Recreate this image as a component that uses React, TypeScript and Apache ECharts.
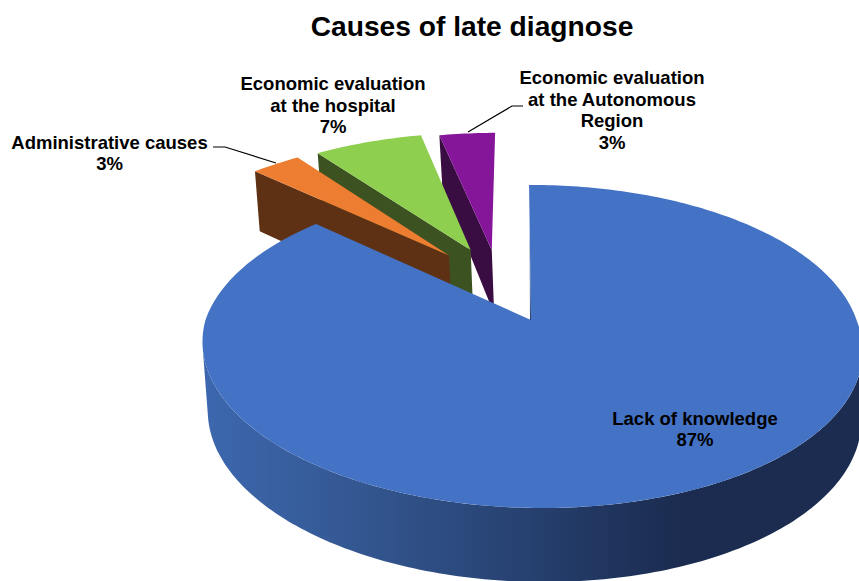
import React, { useEffect, useRef } from "react";
import * as echarts from "echarts";

const titleText = "Causes of late diagnose";
const categories = [
  "Lack of knowledge",
  "Administrative causes",
  "Economic evaluation\nat the hospital",
  "Economic evaluation\nat the Autonomous\nRegion",
];
const values = [87, 3, 6.6, 3.4];

const topColors = ["#4472C4", "#ED7D31", "#8FCF4F", "#85169A"];
const wallColors = ["#26406F", "#5F3114", "#3C5220", "#3A0D42"];
const explode: number[][] = [
  [0, 0],
  [-0.27, -0.44],
  [-0.2, -0.48],
  [-0.13, -0.48],
];
const labelPos: number[][] = [
  [695, 429],
  [109.5, 153],
  [333, 105],
  [612, 110],
];
const leaders: number[][][] = [
  [],
  [[213, 147], [225, 147], [276, 163]],
  [],
  [[523, 106], [512, 106], [468, 132]],
];

// Projected circle of the pie's top face
const CX = 531;
const R = 325.5;
const A = 104.7;
const B = 320;
const C = -0.164;
const SHEAR = 0.06;
const START = -0.4;
const depthStops = [[133, 50], [172, 60], [346, 69], [508, 74]];

function depthAt(y: number) {
  if (y <= depthStops[0][0]) return depthStops[0][1];
  for (let i = 1; i < depthStops.length; i++) {
    const [y1, d1] = depthStops[i];
    const [y0, d0] = depthStops[i - 1];
    if (y <= y1) return d0 + ((d1 - d0) * (y - y0)) / (y1 - y0);
  }
  return depthStops[depthStops.length - 1][1];
}
function project(u: number, v: number) {
  const w = 1 + C * v;
  const y = (A * v + B) / w;
  return [CX + (R * u) / w + SHEAR * Math.max(0, y - B), y];
}
function onRim(deg: number, ox: number, oy: number) {
  const r = (deg * Math.PI) / 180;
  return project(Math.sin(r) + ox, -Math.cos(r) + oy);
}
function lower(p: number[]) {
  return [CX + 2 + (p[0] - CX) * 0.99, p[1] + depthAt(p[1])];
}
function arc(a0: number, a1: number, ox: number, oy: number) {
  const n = Math.max(2, Math.ceil(Math.abs(a1 - a0)));
  const pts: number[][] = [];
  for (let i = 0; i <= n; i++) pts.push(onRim(a0 + ((a1 - a0) * i) / n, ox, oy));
  return pts;
}

const total = values.reduce((s, x) => s + x, 0);
const drawOrder = [3, 2, 1, 0];

function renderSlice(_params: any, api: any) {
  const idx = api.value(0) as number;
  const value = api.value(1) as number;
  let before = 0;
  for (let i = 0; i < idx; i++) before += values[i];
  const a0 = START + (before / total) * 360;
  const a1 = a0 + (value / total) * 360;
  const [ox, oy] = explode[idx];
  const apex = project(ox, oy);
  const rim = arc(a0, a1, ox, oy);
  const children: any[] = [];

  if (idx === 0) {
    // Thin visible edge along the slice's first cut
    const outer = rim[0];
    children.push({
      type: "polygon",
      shape: { points: [[outer[0] + 0.6, outer[1] + 40], apex, [apex[0] - 1, apex[1]]] },
      style: { fill: "#1F3864" },
    });
    const front = arc(99.4, 260.6, 0, 0);
    const back = front.map(lower).reverse();
    children.push({
      type: "polygon",
      shape: { points: front.concat(back) },
      style: {
        fill: new echarts.graphic.LinearGradient(
          202, 0, 860, 0,
          [
            { offset: 0, color: "#3D68AF" },
            { offset: 0.25, color: "#33568F" },
            { offset: 0.5, color: "#26406F" },
            { offset: 0.72, color: "#1B2C50" },
            { offset: 1, color: "#1B2C50" },
          ],
          true
        ),
      },
    });
  } else {
    const outer = rim[0];
    children.push({
      type: "polygon",
      shape: { points: [outer, apex, lower(apex), lower(outer)] },
      style: { fill: wallColors[idx] },
    });
  }

  children.push({
    type: "polygon",
    shape: { points: [apex].concat(rim) },
    style: { fill: topColors[idx] },
  });

  if (leaders[idx].length) {
    children.push({
      type: "polyline",
      shape: { points: leaders[idx] },
      style: { stroke: "#000", lineWidth: 1.2, fill: "none" },
    });
  }
  children.push({
    type: "text",
    x: labelPos[idx][0],
    y: labelPos[idx][1],
    style: {
      text: `${categories[idx]}\n${Math.round(value)}%`,
      fontFamily: "Liberation Sans",
      fontWeight: "bold",
      fontSize: 18.5,
      lineHeight: 21.6,
      fill: "#000",
      align: "center",
      verticalAlign: "middle",
    },
  });
  return { type: "group", children };
}

export default function App() {
  const ref = useRef<HTMLDivElement>(null);
  useEffect(() => {
    document.body.style.margin = "0";
    const chart = echarts.init(ref.current!, null, { renderer: "svg" });
    chart.setOption({
      animation: false,
      backgroundColor: "#fff",
      title: {
        text: titleText,
        left: 467,
        top: 7,
        textAlign: "center",
        textStyle: {
          fontFamily: "Liberation Sans",
          fontWeight: "bold",
          fontSize: 28.2,
          color: "#000",
        },
      },
      series: [
        {
          type: "custom",
          coordinateSystem: "none",
          silent: true,
          renderItem: renderSlice,
          data: drawOrder.map((i) => [i, values[i]]),
        },
      ],
    });
    return () => chart.dispose();
  }, []);
  return <div ref={ref} style={{ width: 859, height: 581, overflow: "hidden" }} />;
}
